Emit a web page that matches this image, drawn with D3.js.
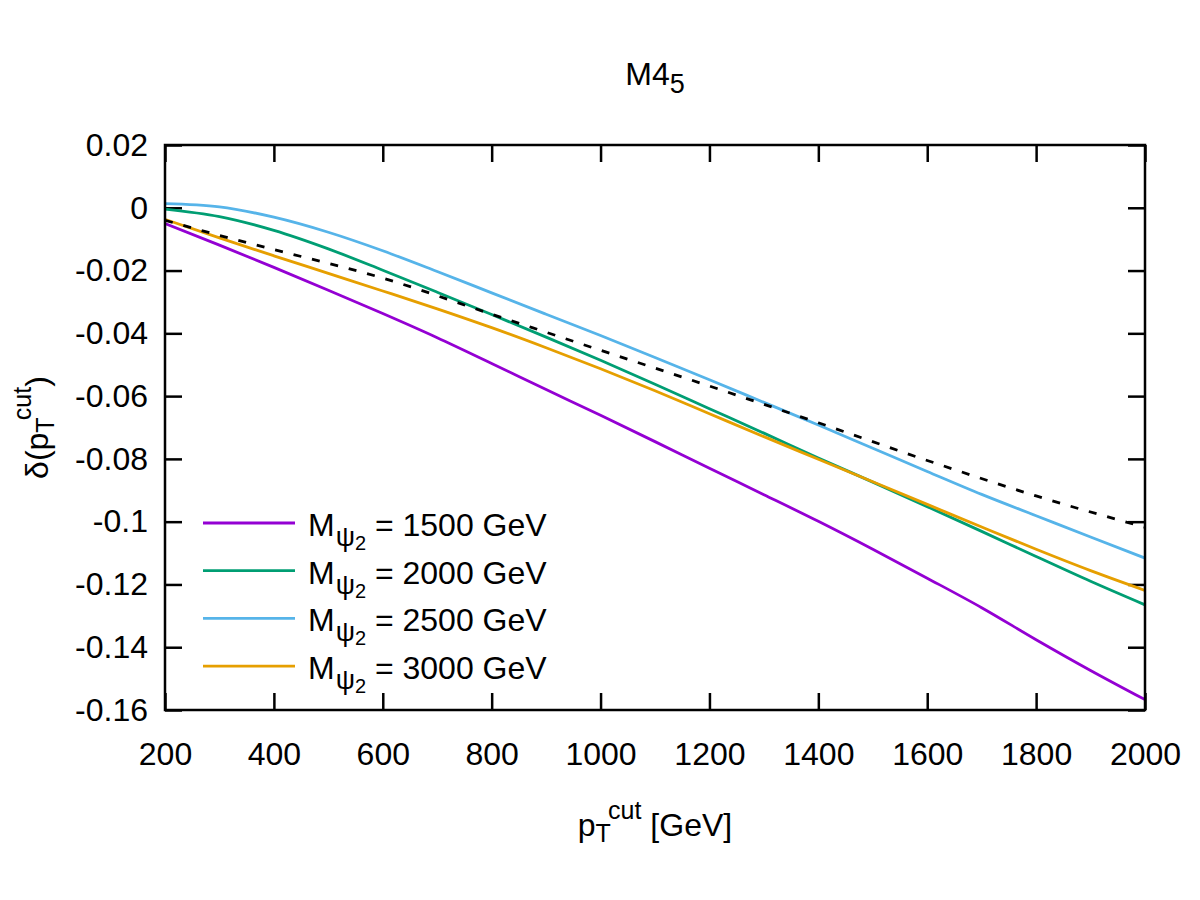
<!DOCTYPE html>
<html>
<head>
<meta charset="utf-8">
<script src="https://cdn.jsdelivr.net/npm/d3@7"></script>
<style>
  body { margin: 0; background: #fff; }
  svg { font-family: "Liberation Sans", Arial, sans-serif; }
</style>
</head>
<body>
<svg id="chart" width="1200" height="900"></svg>
<script>
// data
const ptCut = [200, 300, 400, 500, 600, 700, 800, 900, 1000, 1100, 1200, 1300, 1400, 1500, 1600, 1700, 1800, 1900, 2000];

const delta1500 = [-0.0050, -0.0119, -0.0190, -0.0263, -0.0337, -0.0414, -0.0496, -0.0579, -0.0661, -0.0745, -0.0830, -0.0914, -0.0999, -0.1088, -0.1180, -0.1274, -0.1376, -0.1474, -0.1567];
const delta2000 = [-0.0004, -0.0028, -0.0072, -0.0131, -0.0199, -0.0269, -0.0340, -0.0412, -0.0486, -0.0562, -0.0640, -0.0718, -0.0797, -0.0874, -0.0952, -0.1031, -0.1111, -0.1190, -0.1265];
const delta2500 = [0.0013, 0.0003, -0.0030, -0.0078, -0.0137, -0.0203, -0.0271, -0.0339, -0.0407, -0.0477, -0.0548, -0.0620, -0.0692, -0.0766, -0.0840, -0.0913, -0.0981, -0.1049, -0.1116];
const delta3000 = [-0.0037, -0.0096, -0.0153, -0.0209, -0.0265, -0.0322, -0.0382, -0.0446, -0.0513, -0.0583, -0.0656, -0.0729, -0.0801, -0.0873, -0.0945, -0.1017, -0.1088, -0.1156, -0.1219];

const ptRef = [200, 300, 400, 600, 800, 1000, 1200, 1400, 1600, 1800, 2000];
const deltaRef = [-0.0040, -0.0088, -0.0133, -0.0224, -0.0339, -0.0454, -0.0568, -0.0685, -0.0805, -0.0918, -0.1018];

const massLabels = ["1500", "2000", "2500", "3000"];
const seriesColors = ["#9400d3", "#009e73", "#56b4e9", "#e69f00"];

const xTicks = [200, 400, 600, 800, 1000, 1200, 1400, 1600, 1800, 2000];
const yTicks = [0.02, 0, -0.02, -0.04, -0.06, -0.08, -0.1, -0.12, -0.14, -0.16];
const yTickLabels = ["0.02", "0", "-0.02", "-0.04", "-0.06", "-0.08", "-0.1", "-0.12", "-0.14", "-0.16"];

const svg = d3.select("#chart");

// 1. PLOT AREA
const plotLeft = 165, plotRight = 1145, plotTop = 145, plotBottom = 710;
const fontSize = 32, subSize = 25;

const x = d3.scaleLinear().domain([200, 2000]).range([plotLeft, plotRight]);
const y = d3.scaleLinear().domain([-0.16, 0.02]).range([plotBottom, plotTop]);

svg.append("clipPath").attr("id", "plotclip")
  .append("rect")
  .attr("x", plotLeft).attr("y", plotTop)
  .attr("width", plotRight - plotLeft).attr("height", plotBottom - plotTop);

// 2. AXES (ticks inward on all four sides)
const tickLen = 17;
const axes = svg.append("g");

axes.append("g")
  .attr("transform", `translate(0,${plotBottom})`)
  .call(d3.axisBottom(x).tickValues(xTicks).tickSizeInner(-tickLen).tickSizeOuter(0)
    .tickPadding(32).tickFormat(d3.format("d")))
  .call(g => g.select(".domain").remove());

axes.append("g")
  .attr("transform", `translate(0,${plotTop})`)
  .call(d3.axisTop(x).tickValues(xTicks).tickSizeInner(-tickLen).tickSizeOuter(0).tickFormat(""))
  .call(g => g.select(".domain").remove());

axes.append("g")
  .attr("transform", `translate(${plotLeft},0)`)
  .call(d3.axisLeft(y).tickValues(yTicks).tickSizeInner(-tickLen).tickSizeOuter(0)
    .tickPadding(17).tickFormat((d, i) => yTickLabels[i]))
  .call(g => g.select(".domain").remove());

axes.append("g")
  .attr("transform", `translate(${plotRight},0)`)
  .call(d3.axisRight(y).tickValues(yTicks).tickSizeInner(-tickLen).tickSizeOuter(0).tickFormat(""))
  .call(g => g.select(".domain").remove());

axes.selectAll(".tick line").attr("stroke", "#000").attr("stroke-width", 2.5);
axes.selectAll(".tick text")
  .attr("fill", "#000")
  .style("font-size", fontSize + "px")
  .style("font-family", "'Liberation Sans', Arial, sans-serif");

// 3. CURVES
const line = d3.line()
  .x(d => x(d[0]))
  .y(d => y(d[1]))
  .curve(d3.curveMonotoneX);

const series = [delta1500, delta2000, delta2500, delta3000];
const plot = svg.append("g").attr("clip-path", "url(#plotclip)");

series.forEach((vals, i) => {
  plot.append("path")
    .datum(ptCut.map((p, j) => [p, vals[j]]))
    .attr("d", line)
    .attr("fill", "none")
    .attr("stroke", seriesColors[i])
    .attr("stroke-width", 2.8);
});

plot.append("path")
  .datum(ptRef.map((p, j) => [p, deltaRef[j]]))
  .attr("d", line)
  .attr("fill", "none")
  .attr("stroke", "#000")
  .attr("stroke-width", 2.8)
  .attr("stroke-dasharray", "8,11");

// frame
svg.append("rect")
  .attr("x", plotLeft).attr("y", plotTop)
  .attr("width", plotRight - plotLeft).attr("height", plotBottom - plotTop)
  .attr("fill", "none")
  .attr("stroke", "#000")
  .attr("stroke-width", 2.5);

// 4. LEGEND
const legend = svg.append("g");
const legendY0 = 523, legendStep = 47.7;

massLabels.forEach((m, i) => {
  const ly = legendY0 + i * legendStep;
  legend.append("line")
    .attr("x1", 203).attr("x2", 295)
    .attr("y1", ly).attr("y2", ly)
    .attr("stroke", seriesColors[i])
    .attr("stroke-width", 2.8);

  const t = legend.append("text")
    .attr("x", 308).attr("y", ly + 13)
    .style("font-size", "32px");
  t.append("tspan").text("M");
  t.append("tspan").attr("dx", 1).attr("dy", 10).style("font-size", "27px").text("ψ");
  t.append("tspan").attr("dy", 4).style("font-size", "20px").text("2");
  t.append("tspan").attr("dy", -14).text(` = ${m} GeV`);
});

// 5. TITLES
const title = svg.append("text")
  .attr("x", (plotLeft + plotRight) / 2)
  .attr("y", 85)
  .attr("text-anchor", "middle")
  .style("font-size", fontSize + "px");
title.append("tspan").text("M4");
title.append("tspan").attr("dy", 8).style("font-size", "27px").text("5");

const xLabel = svg.append("text")
  .attr("x", (plotLeft + plotRight) / 2)
  .attr("y", 836)
  .attr("text-anchor", "middle")
  .style("font-size", fontSize + "px");
xLabel.append("tspan").text("p");
xLabel.append("tspan").attr("dy", 6).style("font-size", subSize + "px").text("T");
xLabel.append("tspan").attr("dy", -23).style("font-size", subSize + "px").text("cut");
xLabel.append("tspan").attr("dy", 17).text(" [GeV]");

const yLabel = svg.append("text")
  .attr("transform", `translate(48,${(plotTop + plotBottom) / 2}) rotate(-90)`)
  .attr("text-anchor", "middle")
  .style("font-size", fontSize + "px");
yLabel.append("tspan").text("δ(p");
yLabel.append("tspan").attr("dy", 6).style("font-size", subSize + "px").text("T");
yLabel.append("tspan").attr("dy", -23).style("font-size", subSize + "px").text("cut");
yLabel.append("tspan").attr("dy", 17).text(")");
</script>
</body>
</html>
